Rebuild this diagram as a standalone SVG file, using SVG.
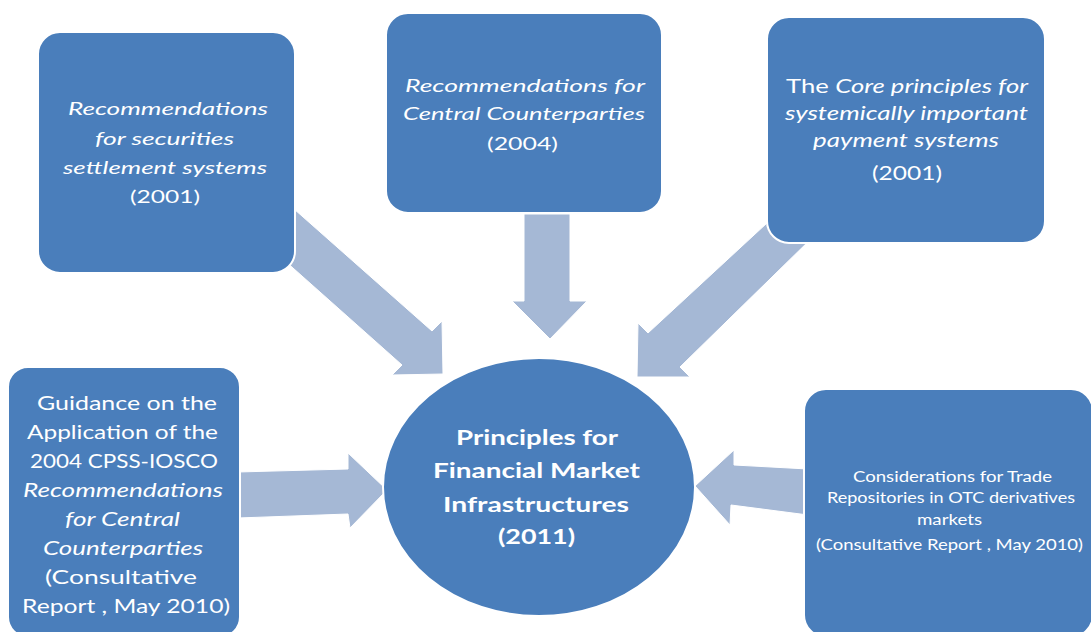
<svg xmlns="http://www.w3.org/2000/svg" width="1091" height="632" viewBox="0 0 1091 632">
<style>
.box{fill:#4A7EBB;stroke:#ffffff;stroke-width:2}
.arrow{fill:#A5B8D5;stroke:#ffffff;stroke-width:1}
text{font-family:Lato,"Liberation Sans",sans-serif;fill:#ffffff;text-anchor:middle}
.i{font-style:italic}
.b{font-weight:bold}
</style>
<rect width="1091" height="632" fill="#ffffff"/>
<g id="connectors">
<polygon class="arrow" points="285,201 432,331 442,321 443,374 392,375 402,365 275,252"/>
<polygon class="arrow" points="524,214 570,214 570,301 587,301 550,339 512,301 524,301"/>
<polygon class="arrow" points="780,211 648,333 638,323 637,377 690,377 680,367 815,235"/>
<polygon class="arrow" points="238,472 348,469 348,453 387,490 350,528 348,514 238,518"/>
<polygon class="arrow" points="808,469 734,465 734,450 695,486 730,525 731,505 808,515"/>
</g>
<g id="node-sss">
<rect class="box" x="38" y="32" width="257" height="241" rx="22"/>
<text class="i" x="168" y="115" font-size="18" textLength="200" lengthAdjust="spacingAndGlyphs">Recommendations</text>
<text class="i" x="164.5" y="145" font-size="18" textLength="139" lengthAdjust="spacingAndGlyphs">for securities</text>
<text class="i" x="165" y="174" font-size="18" textLength="204" lengthAdjust="spacingAndGlyphs">settlement systems</text>
<text x="165" y="203" font-size="18" textLength="70" lengthAdjust="spacingAndGlyphs">(2001)</text>
</g>
<g id="node-ccp">
<rect class="box" x="386" y="13" width="276" height="200" rx="22"/>
<text class="i" x="525" y="92" font-size="18" textLength="240" lengthAdjust="spacingAndGlyphs">Recommendations for</text>
<text class="i" x="524" y="120" font-size="18" textLength="242" lengthAdjust="spacingAndGlyphs">Central Counterparties</text>
<text x="522.5" y="150" font-size="18" textLength="71" lengthAdjust="spacingAndGlyphs">(2004)</text>
</g>
<g id="node-sips">
<rect class="box" x="767" y="17" width="278" height="226" rx="22"/>
<text x="907" y="93" font-size="19" textLength="242" lengthAdjust="spacingAndGlyphs">The <tspan class="i">Core principles for</tspan></text>
<text class="i" x="906.5" y="120" font-size="19" textLength="243" lengthAdjust="spacingAndGlyphs">systemically important</text>
<text class="i" x="906" y="147" font-size="19" textLength="186" lengthAdjust="spacingAndGlyphs">payment systems</text>
<text x="907" y="180" font-size="19" textLength="70" lengthAdjust="spacingAndGlyphs">(2001)</text>
</g>
<g id="node-guidance">
<rect class="box" x="8" y="367" width="232" height="270" rx="20"/>
<text x="127" y="410" font-size="20" textLength="180" lengthAdjust="spacingAndGlyphs">Guidance on the</text>
<text x="122.5" y="439" font-size="20" textLength="191" lengthAdjust="spacingAndGlyphs">Application of the</text>
<text x="124" y="468" font-size="20" textLength="188" lengthAdjust="spacingAndGlyphs">2004 CPSS-IOSCO</text>
<text class="i" x="123" y="497" font-size="20" textLength="200" lengthAdjust="spacingAndGlyphs">Recommendations</text>
<text class="i" x="122.5" y="526" font-size="20" textLength="115" lengthAdjust="spacingAndGlyphs">for Central</text>
<text class="i" x="123" y="555" font-size="20" textLength="160" lengthAdjust="spacingAndGlyphs">Counterparties</text>
<text x="121" y="584" font-size="20" textLength="152" lengthAdjust="spacingAndGlyphs">(Consultative</text>
<text x="126" y="613" font-size="20" textLength="208" lengthAdjust="spacingAndGlyphs">Report , May 2010)</text>
</g>
<g id="node-tr">
<rect class="box" x="804" y="389" width="289" height="248" rx="22"/>
<text x="952.5" y="482" font-size="16" textLength="199" lengthAdjust="spacingAndGlyphs">Considerations for Trade</text>
<text x="951" y="503" font-size="16" textLength="248" lengthAdjust="spacingAndGlyphs">Repositories in OTC derivatives</text>
<text x="949.5" y="525" font-size="16" textLength="65" lengthAdjust="spacingAndGlyphs">markets</text>
<text x="949.5" y="550" font-size="16" textLength="267" lengthAdjust="spacingAndGlyphs">(Consultative Report , May 2010)</text>
</g>
<g id="node-pfmi">
<ellipse class="box" cx="539" cy="487" rx="156" ry="129" stroke-width="1"/>
<text class="b" x="537" y="445" font-size="21" textLength="162" lengthAdjust="spacingAndGlyphs">Principles for</text>
<text class="b" x="536.5" y="478" font-size="21" textLength="207" lengthAdjust="spacingAndGlyphs">Financial Market</text>
<text class="b" x="536" y="512" font-size="21" textLength="186" lengthAdjust="spacingAndGlyphs">Infrastructures</text>
<text class="b" x="536.5" y="544" font-size="21" textLength="77" lengthAdjust="spacingAndGlyphs">(2011)</text>
</g>
</svg>
